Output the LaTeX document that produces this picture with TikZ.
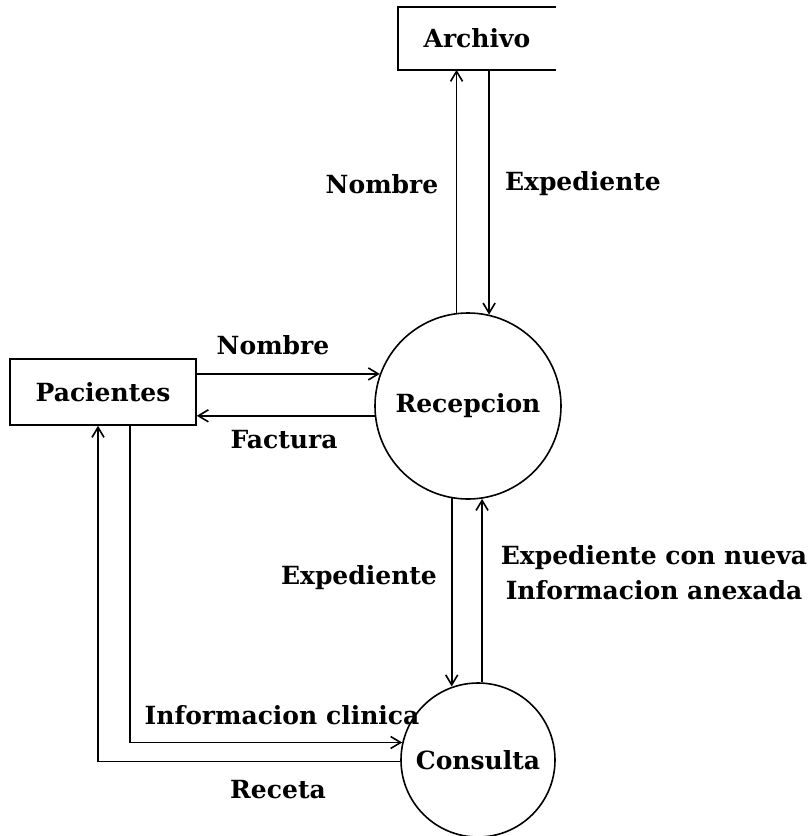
\documentclass[tikz,border=0pt]{standalone}
\usepackage{fontspec}
\setmainfont{DejaVu Serif}
\usetikzlibrary{positioning,arrows.meta}

\begin{document}
\begin{tikzpicture}[x=1pt,y=-1pt]
    % Estilos del diagrama
    \tikzset{
        entidad/.style={
            rectangle, % Caja de la entidad externa
            line width=1.6pt,
            minimum width=186pt,
            minimum height=66pt,
            align=center,
            font=\fontsize{25}{30}\selectfont\bfseries
        },
        proceso/.style={
            circle, % Burbuja del proceso
            draw,
            line width=1.6pt,
            align=center,
            font=\fontsize{25}{30}\selectfont\bfseries
        },
        flujo/.style={
            -{Straight Barb[length=10pt,width=12pt]}, % Flecha del flujo de datos
            line width=1.6pt
        },
        etiqueta/.style={
            align=center,
            inner sep=0pt,
            font=\fontsize{25}{35}\selectfont\bfseries
        }
    }

    \useasboundingbox (0,0) rectangle (811,836);

    % Entidades externas
    \node[entidad, minimum width=156pt, minimum height=61pt] (archivo) at (477,38.5) {Archivo};
    \draw[line width=1.6pt] (archivo.north east) -- (archivo.north west) -- (archivo.south west) -- (archivo.south east);
    \node[entidad, draw] (pacientes) at (103,392) {Pacientes};

    % Procesos
    \node[proceso, minimum size=186pt] (recepcion) at (468,406) {Recepcion};
    \node[proceso, minimum size=154pt] (consulta) at (478,760) {Consulta};

    % Flujos con el archivo
    \draw[flujo] (recepcion.97) -- (recepcion.97 |- archivo.south);
    \draw[flujo] (recepcion.77.6 |- archivo.south) -- (recepcion.77.6);
    \node[etiqueta] (nombre1) at (382,184) {Nombre};
    \node[etiqueta] (expediente1) at (583,184) {Expediente};

    % Flujos con los pacientes
    \draw[flujo] (pacientes.east |- recepcion.160.5) -- (recepcion.160.5);
    \draw[flujo] (recepcion.186.2) -- (recepcion.186.2 -| pacientes.east);
    \node[etiqueta] (nombre2) at (273,345) {Nombre};
    \node[etiqueta] (factura) at (284,440) {Factura};

    % Flujos entre recepcion y consulta
    \draw[flujo] (recepcion.260.1) -- (recepcion.260.1 |- consulta.109.7);
    \draw[flujo] (consulta.87) -- (consulta.87 |- recepcion.278.7);
    \node[etiqueta] (expediente2) at (359,578) {Expediente};
    \node[etiqueta] (anexada) at (654,573) {Expediente con nueva\\Informacion anexada};

    % Flujos entre pacientes y consulta
    \draw[flujo] ([xshift=27pt]pacientes.south) |- (consulta.167.2);
    \draw[flujo] (consulta.181.5) -| ([xshift=-5pt]pacientes.south);
    \node[etiqueta] (clinica) at (282,715) {Informacion clinica};
    \node[etiqueta] (receta) at (278,790) {Receta};

\end{tikzpicture}
\end{document}
